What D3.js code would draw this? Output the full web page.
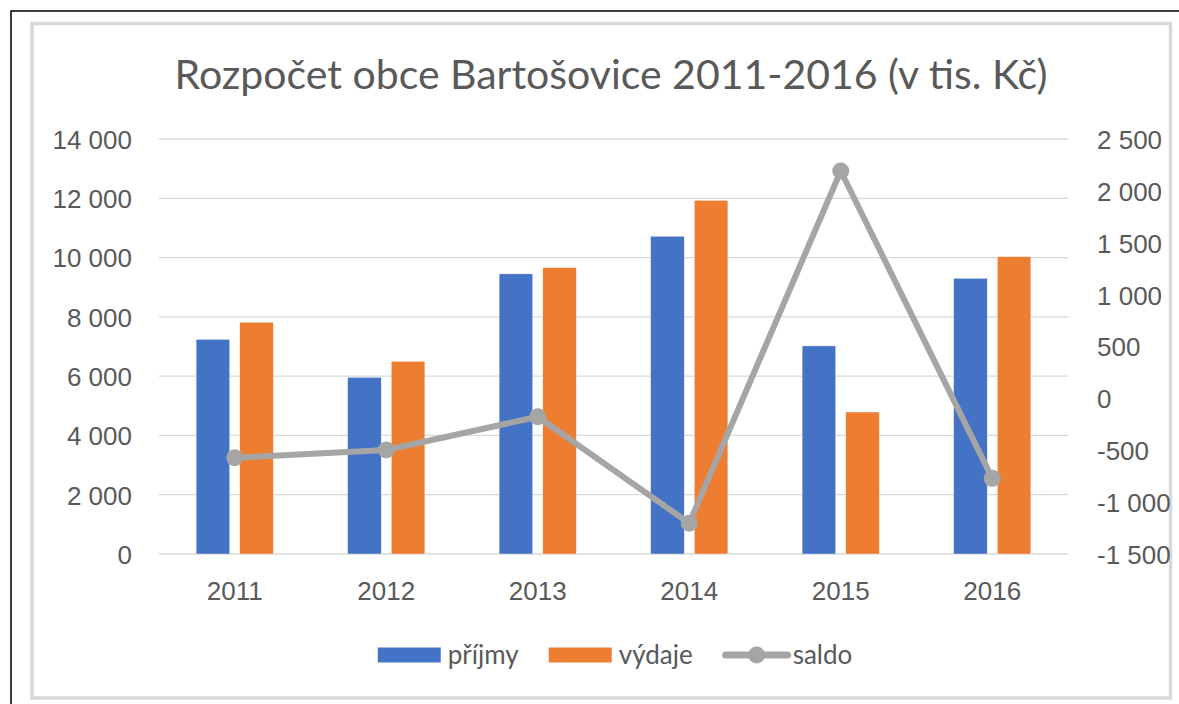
<!DOCTYPE html>
<html>
<head>
<meta charset="utf-8">
<script src="https://cdn.jsdelivr.net/npm/d3@7"></script>
<style>
  body { margin: 0; background: #fff; }
  svg { display: block; font-family: Lato, "Open Sans", sans-serif; }
</style>
</head>
<body>
<div id="chart"></div>
<script>
// data (tis. Kč)
const years = ["2011", "2012", "2013", "2014", "2015", "2016"];
const prijmy = [7240, 5960, 9450, 10720, 7020, 9300];
const vydaje = [7820, 6500, 9660, 11930, 4790, 10030];
const saldo = [-572, -498, -177, -1204, 2192, -771];
const leftTicks = [0, 2000, 4000, 6000, 8000, 10000, 12000, 14000];
const rightTicks = [-1500, -1000, -500, 0, 500, 1000, 1500, 2000, 2500];
const seriesNames = ["příjmy", "výdaje"];

const W = 1179, H = 704;
const plot = { left: 159, right: 1068, top: 139, bottom: 554 };
const colors = { "příjmy": "#4472C4", "výdaje": "#ED7D31", saldo: "#A5A5A5" };
const textColor = "#595959";

// thousands separated by a space, e.g. "-1 500"
const fmt = v => (v < 0 ? "-" : "") + d3.format(",")(Math.abs(v)).replace(/,/g, " ");

const svg = d3.select("#chart").append("svg")
    .attr("width", W).attr("height", H);

// outer frames
svg.append("path")
    .attr("d", `M11,${H + 2} L11,11 L${W + 2},11`)
    .attr("fill", "none").attr("stroke", "#000").attr("stroke-width", 1.5);
svg.append("rect")
    .attr("x", 32).attr("y", 23.5).attr("width", 1138.5).attr("height", 674.5)
    .attr("fill", "none").attr("stroke", "#d9d9d9").attr("stroke-width", 3.5);

const x0 = d3.scaleBand().domain(years).range([plot.left, plot.right]);
const bw = x0.bandwidth();
const x1 = d3.scaleBand().domain(seriesNames)
    .range([bw * 0.245, bw * 0.755]).paddingInner(0.23);
const yL = d3.scaleLinear().domain([0, 14000]).range([plot.bottom, plot.top]);
const yR = d3.scaleLinear().domain([-1500, 2500]).range([plot.bottom, plot.top]);

// gridlines
svg.append("g").selectAll("line").data(leftTicks).join("line")
    .attr("x1", plot.left).attr("x2", plot.right)
    .attr("y1", d => yL(d)).attr("y2", d => yL(d))
    .attr("stroke", "#d9d9d9").attr("stroke-width", 1.3);

// left axis
const axL = svg.append("g")
    .attr("transform", `translate(${plot.left},0)`)
    .call(d3.axisLeft(yL).tickValues(leftTicks).tickFormat(fmt).tickSize(0).tickPadding(27));
axL.select(".domain").remove();
axL.selectAll("text").attr("fill", textColor).style("font-size", "26px").attr("dy", "0.36em");

// right axis
const axR = svg.append("g")
    .attr("transform", `translate(${plot.right},0)`)
    .call(d3.axisRight(yR).tickValues(rightTicks).tickFormat(fmt).tickSize(0).tickPadding(29));
axR.select(".domain").remove();
axR.selectAll("text").attr("fill", textColor).style("font-size", "26px").attr("dy", "0.36em");

// x axis labels
const axX = svg.append("g")
    .attr("transform", `translate(0,${plot.bottom})`)
    .call(d3.axisBottom(x0).tickSize(0).tickPadding(28));
axX.select(".domain").remove();
axX.selectAll("text").attr("fill", textColor).style("font-size", "26px").attr("dy", "0.71em");

// bars
const rows = years.map((y, i) => ({ year: y, vals: [
    { key: "příjmy", v: prijmy[i] }, { key: "výdaje", v: vydaje[i] }] }));
svg.append("g").selectAll("g").data(rows).join("g")
    .attr("transform", d => `translate(${x0(d.year)},0)`)
    .selectAll("rect").data(d => d.vals).join("rect")
    .attr("x", d => x1(d.key))
    .attr("y", d => yL(d.v))
    .attr("width", x1.bandwidth())
    .attr("height", d => yL(0) - yL(d.v))
    .attr("fill", d => colors[d.key])
    .attr("stroke", "#fff").attr("stroke-width", 0.4);

// saldo line
const cx = y => x0(y) + bw / 2;
svg.append("path")
    .datum(saldo)
    .attr("fill", "none").attr("stroke", colors.saldo).attr("stroke-width", 6)
    .attr("stroke-linejoin", "round")
    .attr("d", d3.line().x((d, i) => cx(years[i])).y(d => yR(d)));
svg.append("g").selectAll("circle").data(saldo).join("circle")
    .attr("cx", (d, i) => cx(years[i])).attr("cy", d => yR(d))
    .attr("r", 8.5).attr("fill", colors.saldo);

// title
svg.append("text")
    .attr("x", 611).attr("y", 89)
    .attr("text-anchor", "middle")
    .attr("fill", textColor)
    .style("font-size", "41px")
    .text("Rozpočet obce Bartošovice 2011-2016 (v tis. Kč)");

// legend
const legend = svg.append("g");
const items = [
    { name: "příjmy", type: "bar" },
    { name: "výdaje", type: "bar" },
    { name: "saldo", type: "line" }
];
let lx = 0;
items.forEach(it => {
    const g = legend.append("g").attr("transform", `translate(${lx},0)`);
    if (it.type === "bar") {
        g.append("rect").attr("x", 0).attr("y", -7.5).attr("width", 63).attr("height", 15)
            .attr("fill", colors[it.name]);
    } else {
        g.append("line").attr("x1", 3).attr("x2", 65).attr("y1", 0).attr("y2", 0)
            .attr("stroke", colors.saldo).attr("stroke-width", 7).attr("stroke-linecap", "round");
        g.append("circle").attr("cx", 34).attr("cy", 0).attr("r", 8.5).attr("fill", colors.saldo);
    }
    const t = g.append("text").attr("x", 70).attr("y", 0).attr("dy", "0.36em")
        .attr("fill", textColor).style("font-size", "26px").text(it.name);
    lx += 70 + t.node().getComputedTextLength() + 30;
});
const legW = lx - 30;
legend.attr("transform", `translate(${615 - legW / 2},655)`);
</script>
</body>
</html>
